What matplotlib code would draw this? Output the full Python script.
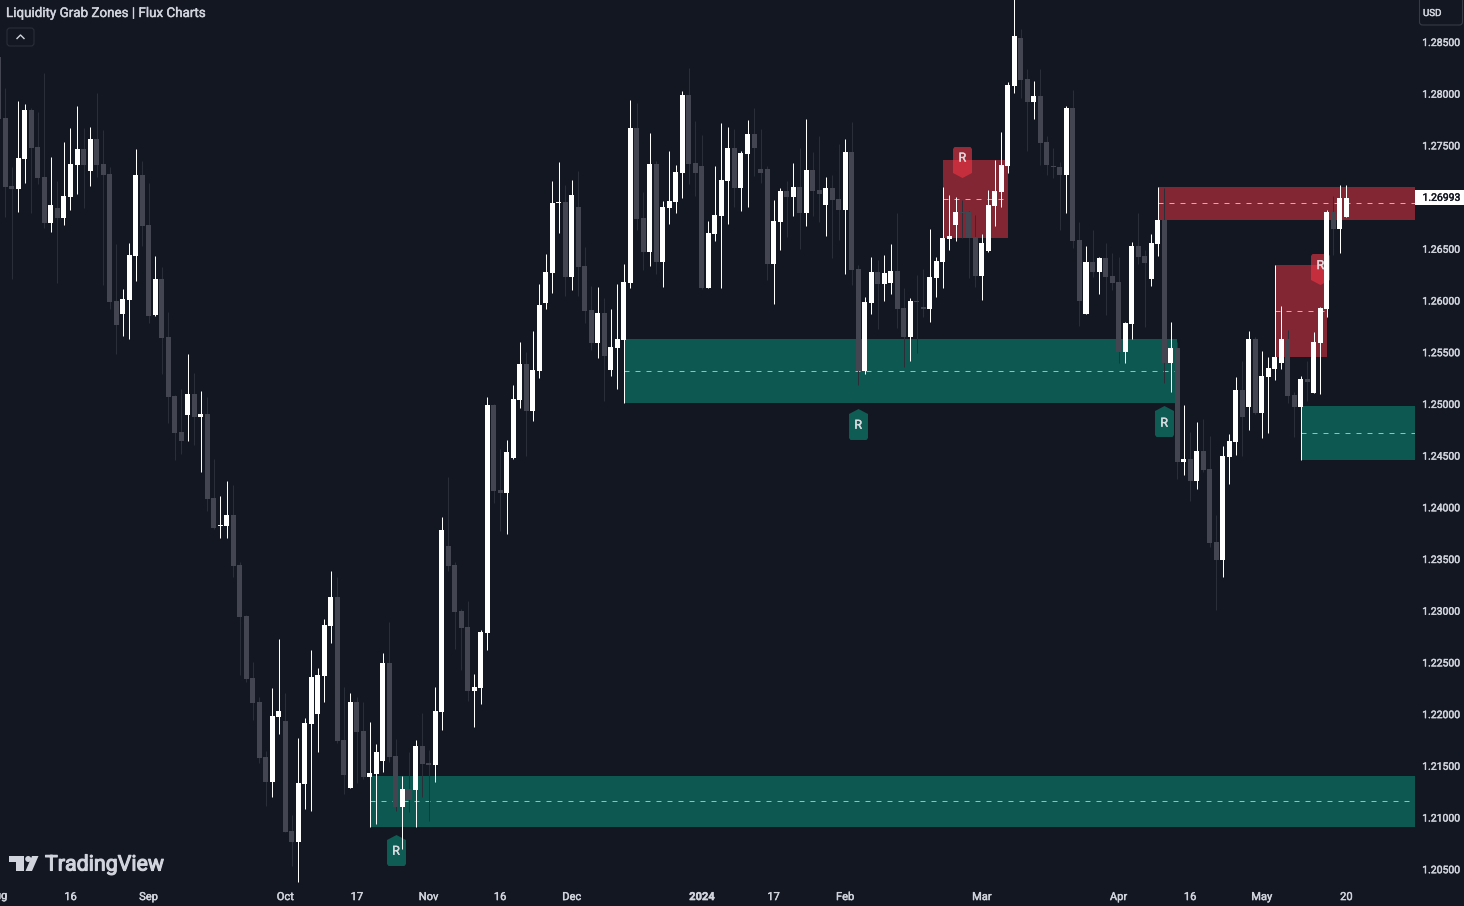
import numpy as np
import matplotlib
matplotlib.use('Agg')
import matplotlib.pyplot as plt
import matplotlib.patheffects as pe
from matplotlib.path import Path
from matplotlib.patches import FancyBboxPatch, Polygon, Circle, Rectangle
from matplotlib.transforms import IdentityTransform

# prices in points (1e-5), one bar per trading day, oldest first
opens = [128352, 127762, 127108, 127079, 127369, 127843, 127485, 127195, 126750, 126895,
         126798, 127001, 127311, 127465, 127253, 127562, 127320, 127224, 125995, 125870,
         126005, 126431, 127214, 126730, 125860, 126208, 125647, 125076, 124728, 124893,
         125096, 124873, 124902, 124090, 123819, 123819, 123925, 123442, 122949, 122349,
         122117, 121585, 121343, 121972, 121933, 120869, 120763, 121324, 121904, 122001,
         122368, 122852, 123132, 121749, 121285, 122117, 121836, 121391, 121420, 121546,
         122494, 121595, 121101, 121275, 121266, 121691, 121527, 121507, 122020, 123626,
         123442, 122997, 122843, 122224, 122253, 122785, 124990, 124168, 124139, 124477,
         125038, 125386, 124931, 125318, 125976, 126266, 126943, 126953, 126227, 126904,
         126334, 125908, 125589, 125879, 125328, 125541, 125618, 126169, 127668, 126798,
         126469, 127320, 126372, 126894, 126953, 127233, 127987, 127330, 127300, 126121,
         126643, 126817, 127156, 127475, 127088, 127416, 127610, 127272, 127272, 126353,
         126759, 127059, 127001, 127098, 126846, 127262, 127069, 126924, 127088, 126982,
         126875, 127436, 126304, 125318, 125975, 126275, 126159, 126169, 126285, 125927,
         125647, 125995, 125937, 125917, 126217, 126372, 126594, 126730, 126856, 126856,
         126614, 126237, 126478, 126914, 127049, 127300, 128074, 128538, 128142, 127919,
         127977, 127533, 127300, 127291, 127213, 127861, 126585, 125869, 126372, 126275,
         126411, 126237, 126179, 125502, 125772, 126527, 126430, 126208, 126546, 126778,
         125395, 125540, 124438, 124467, 124254, 124544, 124370, 123664, 123490, 124486,
         124631, 125134, 124970, 125627, 124912, 125260, 125337, 125395, 125627, 125086,
         124970, 125241, 125105, 125589, 125918, 126856, 126691, 126807]
highs = [128423, 128052, 127295, 127930, 127901, 127859, 127823, 128201, 127388, 127156,
         127533, 127669, 127881, 127669, 127678, 128007, 127649, 127295, 126547, 126111,
         126556, 127465, 127349, 127137, 126431, 126324, 125889, 125086, 125144, 125483,
         125299, 125125, 125067, 124467, 124109, 124254, 124216, 123471, 122958, 122504,
         122165, 121643, 122252, 122726, 122204, 121024, 121769, 121962, 122620, 122446,
         122920, 123384, 123326, 122262, 122204, 122165, 122117, 121923, 121711, 122591,
         122891, 121759, 121401, 121633, 121749, 122010, 121653, 122262, 123906, 124294,
         123471, 123017, 123094, 122388, 122814, 125067, 125000, 124564, 124651, 125183,
         125599, 125502, 125705, 126160, 126450, 127156, 127340, 127117, 127166, 127253,
         126517, 126140, 126131, 126024, 125918, 126160, 126353, 127939, 127910, 127049,
         127620, 127349, 126962, 127446, 127310, 128026, 128249, 127736, 127600, 126769,
         127300, 127717, 127678, 127658, 127446, 127746, 127862, 127658, 127300, 126972,
         127088, 127156, 127330, 127475, 127756, 127436, 127590, 127194, 127214, 127514,
         127562, 127726, 126343, 126033, 126420, 126391, 126440, 126546, 126846, 126120,
         126024, 126246, 126304, 126691, 126420, 127097, 127020, 127001, 126972, 126865,
         126827, 126643, 127068, 127358, 127629, 128113, 128950, 128626, 128239, 128123,
         128239, 127591, 127475, 127339, 127881, 128036, 126759, 126527, 126682, 126421,
         126556, 126459, 126421, 125792, 126566, 126846, 126488, 126643, 127098, 127088,
         125792, 125598, 124989, 124728, 124825, 124854, 124689, 123925, 124592, 124709,
         125260, 125415, 125705, 125647, 125511, 125453, 126343, 125947, 125714, 125115,
         125270, 125415, 125695, 125937, 126875, 127011, 127117, 127117]
lows = [127756, 126811, 126208, 126856, 127137, 126846, 127127, 126701, 126663, 126169,
        126730, 126875, 127030, 126895, 127108, 127195, 126150, 125918, 125483, 125657,
        125628, 126189, 126527, 125783, 125850, 125289, 124815, 124457, 124516, 124641,
        124603, 124341, 123964, 123790, 123703, 123703, 123326, 122378, 122310, 121943,
        121527, 121111, 121198, 121807, 120859, 120531, 120376, 121082, 121063, 121633,
        122117, 122687, 121720, 121227, 121285, 121333, 121372, 120908, 120937, 121440,
        121536, 121063, 120695, 121053, 120908, 121198, 120966, 121343, 121846, 123384,
        122630, 122427, 122127, 121876, 122098, 122620, 124042, 123771, 123742, 124467,
        124960, 124496, 124835, 125250, 125918, 126073, 126653, 126044, 126102, 126044,
        125782, 125521, 125444, 125028, 125270, 125144, 125009, 126121, 126682, 126295,
        126334, 126256, 126131, 126740, 126846, 126991, 127127, 127011, 126111, 126121,
        126575, 126121, 126740, 126904, 126865, 126904, 127204, 127136, 126198, 125966,
        126488, 126614, 126817, 126498, 126720, 126817, 126759, 126624, 126411, 126585,
        126256, 126150, 125182, 125289, 125869, 125724, 125995, 126062, 125734, 125356,
        125414, 125492, 125840, 125792, 126033, 126120, 126488, 126575, 126604, 126217,
        126130, 126004, 126469, 126720, 126904, 127233, 128006, 127958, 127446, 127755,
        127310, 127213, 127184, 126681, 126846, 126507, 125753, 125869, 126227, 126063,
        125860, 126101, 125395, 125395, 125627, 126353, 125743, 126140, 126430, 125202,
        125115, 124273, 124312, 124061, 124177, 124341, 123616, 123006, 123325, 124225,
        124505, 124496, 124747, 124902, 124670, 124718, 125231, 125337, 125008, 124680,
        124457, 125028, 125105, 125095, 125840, 126440, 126459, 126807]
closes = [127756, 127098, 127079, 127378, 127843, 127475, 127185, 126750, 126924, 126798,
          127011, 127320, 127465, 127311, 127562, 127311, 127214, 125986, 125763, 126015,
          126440, 127214, 126721, 125850, 126208, 125637, 125067, 124719, 124641, 125096,
          124873, 124902, 124080, 123800, 123829, 123926, 123432, 122939, 122339, 122107,
          121575, 121343, 121981, 122030, 120859, 120763, 121333, 121914, 122359, 122378,
          122862, 123132, 121740, 121411, 122117, 121827, 121391, 121430, 121633, 122494,
          121585, 121101, 121275, 121169, 121691, 121517, 121507, 122030, 123780, 123433,
          122988, 122833, 122224, 122262, 122794, 124990, 124158, 124139, 124535, 125047,
          125386, 124931, 125328, 125957, 126276, 126943, 126953, 126227, 127020, 126324,
          125898, 125589, 125879, 125463, 125550, 125628, 126179, 127668, 126788, 126469,
          127320, 126372, 126904, 126962, 127243, 127987, 127320, 127233, 126121, 126652,
          126827, 127165, 127475, 127088, 127426, 127610, 127475, 127233, 126353, 126769,
          127059, 127001, 127098, 126846, 127262, 127059, 127030, 127088, 126972, 126875,
          127436, 126295, 125318, 125985, 126275, 126159, 126266, 126285, 125917, 125647,
          125995, 125985, 125917, 126227, 126382, 126604, 126623, 126856, 126846, 126604,
          126237, 126556, 126923, 127059, 127310, 128084, 128558, 128132, 127919, 127977,
          127523, 127310, 127291, 127213, 127861, 126575, 125995, 126372, 126275, 126411,
          126227, 126169, 125502, 125782, 126527, 126421, 126362, 126556, 126778, 125395,
          125540, 124438, 124467, 124254, 124544, 124360, 123654, 123490, 124496, 124641,
          125134, 124873, 125627, 124912, 125270, 125347, 125453, 125627, 125076, 124970,
          125241, 125212, 125598, 125927, 126856, 126691, 126991, 126993]

opens = np.array(opens) / 1e5
highs = np.array(highs) / 1e5
lows = np.array(lows) / 1e5
closes = np.array(closes) / 1e5
bars = np.arange(len(opens))

# zones: first bar, last bar (None = runs to the price scale), top, bottom
green_zones = [(57, None, 1.21402, 1.20908), (96, 181, 1.25628, 1.25009), (200, None, 1.24980, 1.24458)]
red_zones = [(145, 155, 1.27359, 1.26604), (196, 204, 1.26343, 1.25454), (178, None, 1.27098, 1.26779)]
green_marks = [(132, 1.2481), (179, 1.2483), (61, 1.2069)]
red_marks = [(148, 1.2734), (203, 1.2630)]

time_ticks = [11, 23, 44, 55, 66, 77, 88, 108, 119, 130, 151, 172, 183, 194, 207]
time_labels = ['16', 'Sep', 'Oct', '17', 'Nov', '16', 'Dec', '2024', '17', 'Feb', 'Mar', 'Apr', '16', 'May', '20']
price_ticks = [1.205, 1.21, 1.215, 1.22, 1.225, 1.23, 1.235, 1.24, 1.245, 1.25, 1.255, 1.26, 1.265, 1.275, 1.28, 1.285]

BG = '#131722'
TXT = '#d1d4dc'
plt.rcParams['font.family'] = 'Roboto'
# the reference text is a touch heavier than Roboto regular
heavy = [pe.withStroke(linewidth=0.3, foreground=TXT)]

fig = plt.figure(figsize=(14.64, 9.06), dpi=100, facecolor=BG)
ax = fig.add_axes([0, 22 / 906, 1415 / 1464, 884 / 906], facecolor=BG)
xmin, xmax = 0.17, 217.54
ax.set_xlim(xmin, xmax)
ax.set_ylim(1.20357, 1.28906)
for s in ax.spines.values():
    s.set_visible(False)

for zones, fill, dash in [(green_zones, '#0d5851', '#72cfc2'), (red_zones, '#822633', '#f2a0a6')]:
    for first, last, top, bottom in zones:
        end = xmax if last is None else last
        ax.fill_between([first, end], bottom, top, color=fill, lw=0, zorder=1)
        ax.plot([first, end], [(top + bottom) / 2] * 2, color=dash, lw=0.72, ls=(0, (5, 6)), zorder=1.5)

# R labels
up_tag = Path([(-9.5, -13.5), (-8, -15.5), (8, -15.5), (9.5, -13.5), (9.5, 10.5), (0, 15.5), (-9.5, 10.5), (-9.5, -13.5)], closed=True)
down_tag = Path([(-9.5, 13.5), (-8, 15.5), (8, 15.5), (9.5, 13.5), (9.5, -10.5), (0, -15.5), (-9.5, -10.5), (-9.5, 13.5)], closed=True)
for x, p in green_marks:
    ax.plot(x, p, marker=up_tag, ms=22.3, mew=0, color='#0f5c55', zorder=2)
    ax.annotate('R', (x, p), xytext=(0, -1.2), textcoords='offset points', ha='center', va='center',
                color='#d8dde0', fontsize=9, path_effects=heavy, zorder=4)
for x, p in red_marks:
    ax.plot(x, p, marker=down_tag, ms=22.3, mew=0, color='#f23645', alpha=0.6, zorder=2)
    ax.annotate('R', (x, p), xytext=(0, 2.8), textcoords='offset points', ha='center', va='center',
                color='#e6d5d8', fontsize=9, path_effects=heavy, zorder=2.2)

up = closes >= opens
# up bars white, down bars dark grey; wicks of the grey ones are fainter
ax.vlines(bars[~up], lows[~up], highs[~up], color='#2a2e39', lw=0.72, zorder=2.5)
ax.bar(bars[~up], (opens - closes)[~up], bottom=closes[~up], width=0.77, color='#434651', lw=0, zorder=3)
ax.vlines(bars[up], lows[up], highs[up], color='white', lw=0.72, zorder=3)
ax.bar(bars[up], (closes - opens)[up], bottom=opens[up], width=0.77, color='white', lw=0, zorder=3.2)

ax.yaxis.tick_right()
ax.set_yticks(price_ticks)
ax.set_yticklabels(['%.5f' % p for p in price_ticks])
ax.tick_params(axis='y', length=0, pad=5.2, labelsize=7.5, labelcolor=TXT)
ax.set_xticks(time_ticks)
ax.set_xticklabels(time_labels)
ax.tick_params(axis='x', length=0, pad=5.8, labelsize=8, labelcolor=TXT)
for lab in ax.get_yticklabels() + ax.get_xticklabels():
    lab.set_path_effects(heavy)
ax.get_xticklabels()[time_labels.index('2024')].set_fontweight('bold')
ax.text(-0.22, -12 / 884, 'Aug', transform=ax.get_xaxis_transform(), ha='center', va='center',
        fontsize=8, color=TXT, clip_on=False, path_effects=heavy)

# last price tag
last = closes[-1]
ax.add_patch(Rectangle((1, last - 0.00073), 49 / 1415, 0.00146, transform=ax.get_yaxis_transform(),
                       color='white', lw=0, clip_on=False, zorder=5))
ax.text(1 + 7.5 / 1415, last, '%.5f' % last, transform=ax.get_yaxis_transform(), va='center', ha='left',
        fontsize=7.5, color=BG, clip_on=False, zorder=6, path_effects=[pe.withStroke(linewidth=0.3, foreground=BG)])

# header, buttons and logo, in pixels from the top left
def px(x, y):
    return x / 1464, 1 - y / 906

fig.text(*px(6, 13.5), 'Liquidity Grab Zones | Flux Charts', color=TXT, fontsize=9.65, va='center', ha='left', path_effects=heavy)
fig.text(*px(1423, 13), 'USD', color=TXT, fontsize=7, va='center', ha='left', path_effects=heavy)

ident = IdentityTransform()
fig.add_artist(FancyBboxPatch((7, 906 - 46), 27, 18, boxstyle='round,pad=0,rounding_size=3', fc='none',
                              ec='#2a2e39', lw=0.8, transform=ident))
fig.add_artist(FancyBboxPatch((1419.5, 906 - 25), 43, 30, boxstyle='round,pad=0,rounding_size=3', fc='none',
                              ec='#363a45', lw=0.8, transform=ident))
fig.add_artist(plt.Line2D([17, 20.5, 24], [906 - 38.5, 906 - 35, 906 - 38.5], color=TXT, lw=1, transform=ident))

logo = '#d1d4dc'
fig.add_artist(Polygon([(9, 906 - 856), (24.3, 906 - 856), (24.3, 906 - 871), (16, 906 - 871), (16, 906 - 862), (9, 906 - 862)],
                       closed=True, fc=logo, lw=0, transform=ident))
fig.add_artist(Circle((28.2, 906 - 859), 3, fc=logo, lw=0, transform=ident))
fig.add_artist(Polygon([(38.5, 906 - 856), (32, 906 - 871), (25.5, 906 - 871), (32, 906 - 856)], closed=True, fc=logo, lw=0, transform=ident))
fig.text(*px(45, 865), 'TradingView', color=logo, fontsize=15.4, va='center', ha='left',
         path_effects=[pe.withStroke(linewidth=0.8, foreground=logo)])

fig.savefig('out.png', dpi=100, facecolor=BG)
